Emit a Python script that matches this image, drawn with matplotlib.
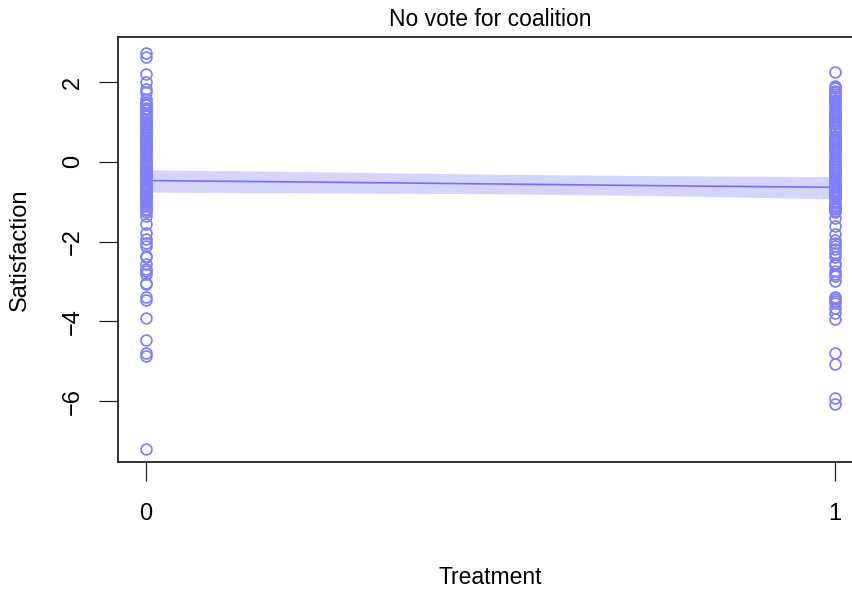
import matplotlib
matplotlib.use("Agg")
import matplotlib.pyplot as plt
import numpy as np

# Satisfaction scores for respondents with no vote for the coalition
control_scores = [
    2.72, 2.64, 2.20, 1.99, 1.83, 1.74, 1.58, 1.50, 1.42, 1.36, 1.30, 1.22,
    1.15, 1.08, 1.00, 0.92, 0.85, 0.78, 0.70, 0.62, 0.55, 0.48, 0.40, 0.33,
    0.25, 0.18, 0.10, 0.03, -0.05, -0.12, -0.20, -0.28, -0.35, -0.42, -0.50,
    -0.58, -0.65, -0.72, -0.80, -0.88, -0.95, -1.02, -1.10, -1.18, -1.25,
    1.45, 1.33, 1.19, 1.05, 0.96, 0.88, 0.74, 0.60, 0.51, 0.37, 0.29, 0.20,
    0.14, 0.0, -0.08, -0.16, -0.30, -0.38, -0.46, -0.60, -0.69, -0.76,
    -0.91, -1.00, -1.06, -1.20, 0.66, 0.44, -0.24, -0.84,
    -1.36, -1.56, -1.78, -1.93, -2.03, -2.10, -2.36, -2.40, -2.56, -2.69,
    -2.74, -2.81, -3.03, -3.07, -3.40, -3.47, -3.91, -4.47, -4.80, -4.87,
    -7.21,
]
treated_scores = [
    2.24, 1.91, 1.85, 1.78, 1.70, 1.62, 1.55, 1.48, 1.40, 1.32, 1.25, 1.18,
    1.10, 1.02, 0.95, 0.88, 0.80, 0.72, 0.65, 0.58, 0.50, 0.42, 0.35, 0.28,
    0.20, 0.12, 0.05, -0.02, -0.10, -0.18, -0.25, -0.32, -0.40, -0.48, -0.55,
    -0.62, -0.70, -0.78, -0.85, -0.92, -1.00, -1.08, -1.15, -1.23,
    1.88, 1.74, 1.66, 1.52, 1.44, 1.36, 1.21, 1.06, 0.98, 0.84, 0.76, 0.61,
    0.54, 0.38, 0.31, 0.16, 0.08, 0.0, -0.14, -0.21, -0.36, -0.44, -0.59,
    -0.66, -0.81, -0.89, -1.04, -1.11, -1.19, 1.14, 0.46, -0.29, -0.74,
    -1.27, -1.40, -1.61, -1.81, -1.95, -2.03, -2.10, -2.18, -2.28, -2.40,
    -2.53, -2.60, -2.74, -2.81, -2.86, -2.99, -3.40, -3.44, -3.50, -3.55,
    -3.67, -3.79, -3.94, -4.79, -5.07, -5.93, -6.08,
]

# Fitted regression line with its confidence band
fit_x = [0.0, 0.25, 0.5, 0.75, 1.0]
fit_y = [-0.47, -0.51, -0.555, -0.60, -0.64]
fit_lower = [-0.76, -0.78, -0.80, -0.85, -0.93]
fit_upper = [-0.20, -0.25, -0.31, -0.35, -0.37]

x_ticks = [0, 1]
y_ticks = [-6, -4, -2, 0, 2]

point_color = "#7F7FFF"
line_color = "#7070FF"
band_color = "#D4D4FF"

plt.rcParams["font.family"] = ["Liberation Sans", "DejaVu Sans"]

fig = plt.figure(figsize=(8.53, 5.90), dpi=100)
ax = fig.add_axes([118 / 853, 1 - 462 / 590, (862.6 - 118) / 853, (462 - 37) / 590])

ax.fill_between(fit_x, fit_lower, fit_upper, color=band_color, lw=0, zorder=1)
ax.plot(fit_x, fit_y, color=line_color, lw=1.2, zorder=2)

ax.plot(np.zeros(len(control_scores)), control_scores, linestyle="none",
        marker="o", markersize=7.8, markerfacecolor="none",
        markeredgecolor=point_color, markeredgewidth=1.25, zorder=3)
ax.plot(np.ones(len(treated_scores)), treated_scores, linestyle="none",
        marker="o", markersize=7.8, markerfacecolor="none",
        markeredgecolor=point_color, markeredgewidth=1.25, zorder=3)

ax.set_xlim(-0.04, 1.04)
ax.set_ylim(-7.53, 3.13)

for side in ("left", "top", "bottom", "right"):
    ax.spines[side].set_color("#222222")
    ax.spines[side].set_linewidth(1.3)

ax.set_xticks(x_ticks)
ax.set_xticklabels([str(t) for t in x_ticks])
ax.set_yticks(y_ticks)
ax.set_yticklabels([("\u2212" if t < 0 else "") + str(abs(t)) for t in y_ticks],
                   rotation=90, va="center")
ax.tick_params(axis="x", length=13.7, width=0.9, pad=16, labelsize=17,
               color="#222222")
ax.tick_params(axis="y", length=13.7, width=0.9, pad=11, labelsize=17,
               color="#222222")

fig.text(490 / 853, 1 - 20 / 590, "No vote for coalition", ha="center",
         va="center", fontsize=16.5)
fig.text(490 / 853, 1 - 577 / 590, "Treatment", ha="center", va="center",
         fontsize=16.5)
fig.text(20 / 853, 1 - 250 / 590, "Satisfaction", ha="center", va="center",
         rotation=90, fontsize=17)

fig.savefig("out.png", dpi=100)
